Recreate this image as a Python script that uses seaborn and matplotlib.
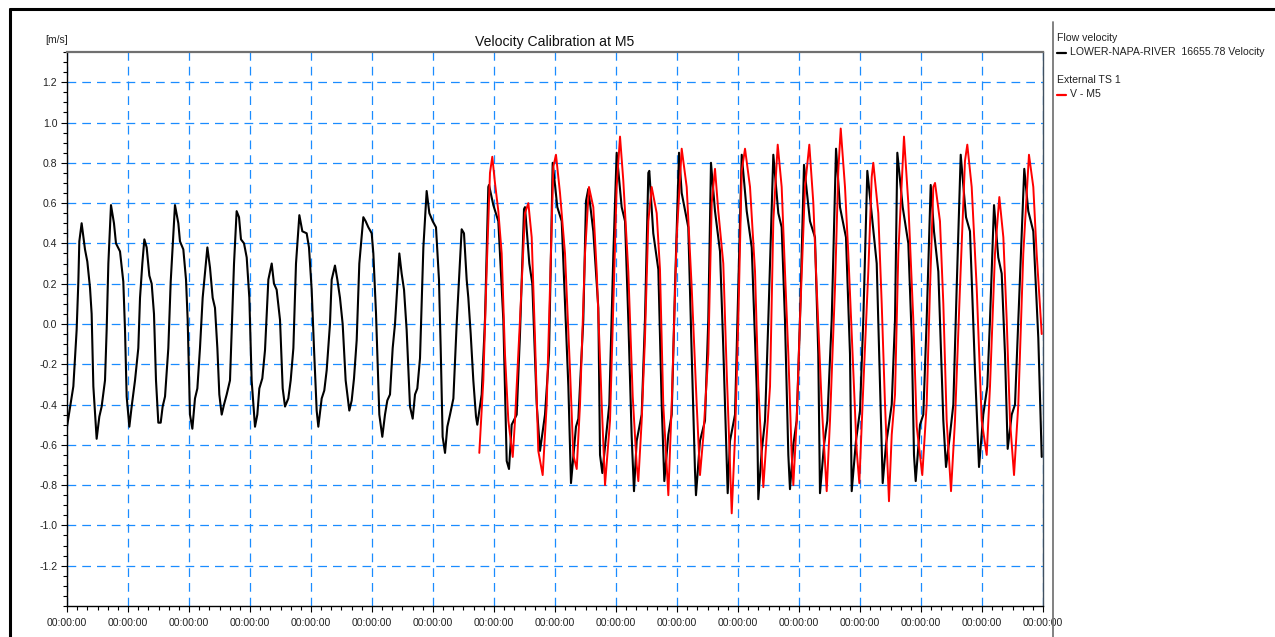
import numpy as np
import pandas as pd
import matplotlib
matplotlib.use("Agg")
import matplotlib.pyplot as plt
from matplotlib.lines import Line2D
from matplotlib.ticker import MultipleLocator, FixedLocator, FixedFormatter
import seaborn as sns

# ---------------- data (time in days from start, velocity in m/s) ----------------
black_t = [0.000, 0.077, 0.104, 0.158, 0.186, 0.202, 0.240, 0.295, 0.333, 0.377, 0.404, 0.432, 0.486,
           0.530, 0.568, 0.623, 0.650, 0.678, 0.721, 0.770, 0.803, 0.869, 0.923, 0.951, 0.978, 1.022,
           1.060, 1.115, 1.169, 1.197, 1.235, 1.268, 1.306, 1.350, 1.388, 1.426, 1.459, 1.497, 1.536,
           1.568, 1.607, 1.661, 1.700, 1.770, 1.825, 1.852, 1.907, 1.951, 1.978, 2.016, 2.055, 2.098,
           2.137, 2.180, 2.224, 2.301, 2.344, 2.388, 2.426, 2.465, 2.497, 2.536, 2.574, 2.618, 2.672,
           2.710, 2.738, 2.781, 2.820, 2.852, 2.902, 2.946, 2.989, 3.027, 3.082, 3.120, 3.153, 3.202,
           3.246, 3.301, 3.356, 3.393, 3.437, 3.492, 3.536, 3.574, 3.628, 3.667, 3.711, 3.754, 3.809,
           3.858, 3.929, 3.967, 4.011, 4.049, 4.093, 4.120, 4.175, 4.218, 4.257, 4.311, 4.339, 4.393,
           4.432, 4.475, 4.519, 4.568, 4.628, 4.667, 4.705, 4.749, 4.792, 4.858, 4.896, 4.940, 4.995,
           5.022, 5.066, 5.120, 5.169, 5.213, 5.251, 5.295, 5.339, 5.377, 5.448, 5.486, 5.525, 5.568,
           5.623, 5.667, 5.705, 5.743, 5.787, 5.842, 5.896, 5.940, 5.995, 6.049, 6.098, 6.126, 6.158,
           6.197, 6.235, 6.279, 6.334, 6.388, 6.470, 6.508, 6.552, 6.579, 6.618, 6.661, 6.705, 6.726,
           6.798, 6.852, 6.907, 6.918, 6.989, 7.071, 7.153, 7.208, 7.246, 7.290, 7.372, 7.426, 7.492,
           7.508, 7.579, 7.628, 7.700, 7.754, 7.836, 7.902, 7.962, 8.038, 8.110, 8.219, 8.262, 8.344,
           8.383, 8.464, 8.508, 8.546, 8.628, 8.710, 8.738, 8.776, 8.820, 8.890, 8.956,
           9.011, 9.093, 9.148, 9.202, 9.257, 9.295, 9.339, 9.421, 9.475, 9.530, 9.546, 9.611, 9.694,
           9.749, 9.792, 9.858, 9.913, 9.967, 10.033, 10.077, 10.185, 10.241, 10.295, 10.311, 10.377,
           10.459, 10.513, 10.557, 10.623, 10.705, 10.759, 10.814, 10.831, 10.869, 10.951, 11.005,
           11.061, 11.143, 11.225, 11.307,
           11.333, 11.389, 11.443, 11.497, 11.579, 11.661, 11.716, 11.770, 11.825, 11.852, 11.907,
           11.962, 12.016, 12.082, 12.180, 12.262, 12.316, 12.344, 12.410, 12.464, 12.536, 12.607,
           12.672, 12.770, 12.836, 12.864, 12.934, 13.000, 13.054, 13.120, 13.208, 13.274, 13.328,
           13.372, 13.426, 13.520, 13.574,
           13.612, 13.700, 13.792, 13.848, 13.885, 13.913, 13.984, 14.038, 14.093, 14.159, 14.213,
           14.284, 14.366, 14.410, 14.475, 14.530, 14.585, 14.651, 14.738, 14.803, 14.885, 14.951,
           15.021, 15.087, 15.131, 15.197, 15.267, 15.323, 15.377, 15.421, 15.487, 15.541, 15.595,
           15.693, 15.759, 15.841, 15.923, 15.979]
black_v = [-0.51, -0.36, -0.31, -0.03, 0.21, 0.41, 0.50, 0.37, 0.31, 0.18, 0.05, -0.31, -0.57,
           -0.46, -0.41, -0.28, -0.03, 0.30, 0.59, 0.50, 0.40, 0.36, 0.21, -0.03, -0.36, -0.51,
           -0.41, -0.28, -0.12, 0.13, 0.30, 0.42, 0.38, 0.24, 0.20, 0.05, -0.28, -0.49, -0.49,
           -0.41, -0.36, -0.12, 0.21, 0.59, 0.50, 0.41, 0.37, 0.22, 0.02, -0.45, -0.52, -0.37,
           -0.32, -0.12, 0.13, 0.38, 0.28, 0.13, 0.08, -0.12, -0.35, -0.45, -0.40, -0.35, -0.28,
           0.05, 0.30, 0.56, 0.53, 0.42, 0.40, 0.33, 0.13, -0.28, -0.51, -0.45, -0.32, -0.27,
           -0.13, 0.22, 0.30, 0.20, 0.17, 0.02, -0.32, -0.41, -0.37, -0.28, -0.12, 0.30, 0.54,
           0.46, 0.45, 0.38, 0.17, -0.12, -0.43, -0.51, -0.37, -0.33, -0.23, 0.00, 0.22, 0.29,
           0.22, 0.13, 0.00, -0.28, -0.43, -0.38, -0.27, -0.08, 0.30, 0.53, 0.51, 0.48, 0.45,
           0.35, 0.05, -0.45, -0.56, -0.45, -0.38, -0.35, -0.12, 0.00, 0.35, 0.25, 0.17, -0.03,
           -0.41, -0.47, -0.35, -0.32, -0.17, 0.38, 0.66, 0.55, 0.51, 0.48, 0.22, -0.12, -0.56,
           -0.64, -0.51, -0.45, -0.37, 0.00, 0.47, 0.45, 0.22, 0.13, -0.05, -0.28, -0.46, -0.50,
           -0.35, 0.02, 0.68, 0.69, 0.59, 0.51, 0.02, -0.68, -0.72, -0.50, -0.45, -0.05, 0.57,
           0.58, 0.30, 0.20, -0.40, -0.63, -0.45, -0.15, 0.80, 0.58, 0.51, -0.31, -0.79, -0.51,
           -0.47, 0.02, 0.61, 0.67, 0.46, 0.08, -0.65, -0.74, -0.61, -0.40, 0.34,
           0.85, 0.58, 0.51, 0.02, -0.56, -0.83, -0.58, -0.45, 0.02, 0.75, 0.76, 0.45, 0.27,
           -0.40, -0.78, -0.55, -0.45, 0.18, 0.85, 0.65, 0.48, -0.15, -0.73, -0.85, -0.58,
           -0.48, 0.02, 0.80, 0.56, 0.36, -0.12, -0.68, -0.84, -0.58, -0.45, 0.18,
           0.84, 0.56, 0.38, -0.32,
           -0.87, -0.63, -0.48, 0.02, 0.84, 0.55, 0.48, 0.02, -0.65, -0.82, -0.60,
           -0.48, 0.02, 0.79, 0.51, 0.43, -0.15, -0.84, -0.60, -0.48, 0.02, 0.87,
           0.58, 0.43, -0.15, -0.83, -0.58, -0.43, 0.02, 0.76, 0.50, 0.30, -0.31,
           -0.79, -0.60, -0.40, 0.02,
           0.85, 0.58, 0.40, -0.07, -0.65, -0.78, -0.50, -0.45, 0.02, 0.69, 0.46,
           0.26, -0.48, -0.71, -0.55, -0.40, 0.18, 0.84, 0.53, 0.46, -0.23, -0.71,
           -0.45, -0.31, 0.02, 0.59, 0.33, 0.25, -0.15, -0.62, -0.45, -0.40, 0.02,
           0.77, 0.56, 0.46, -0.07, -0.66]

red_t = [6.759, 6.825, 6.880, 6.934, 6.972, 7.016, 7.071, 7.126, 7.180, 7.235, 7.307, 7.344, 7.426,
         7.508, 7.563, 7.618, 7.672, 7.726, 7.798, 7.864, 7.918, 7.972, 8.016, 8.082, 8.164, 8.246,
         8.300, 8.356, 8.410, 8.492, 8.557, 8.628, 8.684, 8.766, 8.820, 8.902, 9.011,
         9.066, 9.120, 9.202, 9.274, 9.339, 9.366, 9.421, 9.475, 9.530, 9.585, 9.667, 9.721, 9.775,
         9.858, 9.913, 9.995, 10.077, 10.159, 10.241, 10.323, 10.377, 10.431, 10.513, 10.569,
         10.623, 10.677, 10.759, 10.814, 10.897, 10.951, 11.005, 11.061, 11.115, 11.197, 11.279,
         11.333, 11.415, 11.525, 11.579, 11.651, 11.716, 11.770, 11.825, 11.880, 11.907, 11.962,
         12.016, 12.098, 12.169, 12.235, 12.290, 12.372, 12.454, 12.508, 12.590, 12.644, 12.684,
         12.754, 12.808, 12.890, 12.946, 12.989, 13.054, 13.136, 13.192, 13.218, 13.300, 13.356,
         13.410, 13.475, 13.520, 13.574, 13.628, 13.721, 13.792, 13.874, 13.930, 14.021, 14.093,
         14.148, 14.202, 14.230, 14.311, 14.366, 14.421, 14.492, 14.557, 14.639, 14.721, 14.759,
         14.831, 14.913, 14.995, 15.077, 15.131, 15.213, 15.284, 15.350, 15.405, 15.459, 15.525,
         15.595, 15.677, 15.770, 15.841, 15.896, 15.979]
red_v = [-0.64, -0.28, 0.27, 0.75, 0.83, 0.70, 0.56, 0.35, -0.15, -0.48, -0.66, -0.48, 0.02,
         0.55, 0.60, 0.43, -0.07, -0.63, -0.75, -0.40, 0.18, 0.78, 0.84, 0.65, 0.35, -0.23,
         -0.65, -0.72, -0.40, 0.35, 0.68, 0.58, 0.26, -0.40, -0.80, -0.48, 0.68,
         0.93, 0.71, 0.26, -0.36, -0.70, -0.78, -0.48, -0.07, 0.51, 0.68, 0.55, 0.27, -0.40,
         -0.85, -0.40, 0.43, 0.87, 0.68, 0.18, -0.40, -0.75, -0.56, -0.15, 0.60,
         0.77, 0.56, 0.30, -0.23, -0.94, -0.56, 0.02, 0.76, 0.87, 0.68, 0.26,
         -0.31, -0.81, -0.31, 0.51, 0.89, 0.68, 0.26, -0.15, -0.65, -0.80, -0.48,
         0.02, 0.68, 0.89, 0.60, 0.18, -0.40, -0.83, -0.48, 0.18, 0.76, 0.97,
         0.68, 0.35, -0.23, -0.63, -0.79, -0.31, 0.26, 0.73, 0.80, 0.55, 0.10,
         -0.40, -0.88, -0.55, -0.35, 0.35, 0.93, 0.60, 0.02, -0.51, -0.75, -0.40,
         0.18, 0.68, 0.70, 0.51, 0.10, -0.48, -0.83, -0.48, 0.18, 0.81, 0.89,
         0.68, 0.18, -0.48, -0.65, -0.31, 0.35, 0.63, 0.43, 0.02, -0.48, -0.75,
         -0.40, 0.35, 0.84, 0.68, 0.35, -0.05]

x_tick_days = list(range(0, 17))
x_tick_labels = ["00:00:00"] * len(x_tick_days)
y_tick_values = [-1.2, -1.0, -0.8, -0.6, -0.4, -0.2, 0.0, 0.2, 0.4, 0.6, 0.8, 1.0, 1.2]
y_tick_labels = ["-1.2", "-1.0", "-0.8", "-0.6", "-0.4", "-0.2", "0.0", "0.2", "0.4", "0.6", "0.8", "1.0", "1.2"]

title = "Velocity Calibration at M5"
unit_label = "[m/s]"
legend_group1 = "Flow velocity"
legend_item1 = "LOWER-NAPA-RIVER  16655.78 Velocity"
legend_group2 = "External TS 1"
legend_item2 = "V - M5"

# ---------------- figure ----------------
sns.set_theme(style="white")
plt.rcParams["font.family"] = ["Liberation Sans", "DejaVu Sans"]
plt.rcParams["axes.unicode_minus"] = False

W, H = 1275, 637
fig = plt.figure(figsize=(W / 100, H / 100), dpi=100)
fig.patch.set_facecolor("white")

ax_l, ax_r, ax_t, ax_b = 67, 1043, 52, 606
ax = fig.add_axes([ax_l / W, 1 - ax_b / H, (ax_r - ax_l) / W, (ax_b - ax_t) / H])

df_b = pd.DataFrame({"t": black_t, "v": black_v})
df_r = pd.DataFrame({"t": red_t, "v": red_v})
sns.lineplot(data=df_b, x="t", y="v", ax=ax, color="black", lw=1.5,
             estimator=None, sort=False, zorder=3)
sns.lineplot(data=df_r, x="t", y="v", ax=ax, color="#ff0000", lw=1.4,
             estimator=None, sort=False, zorder=4)

ax.set_xlim(0, 16)
ax.set_ylim(-1.40, 1.35)
ax.set_xlabel("")
ax.set_ylabel("")

ax.xaxis.set_major_locator(FixedLocator(x_tick_days))
ax.xaxis.set_major_formatter(FixedFormatter(x_tick_labels))
ax.xaxis.set_minor_locator(MultipleLocator(1 / 6))
ax.yaxis.set_major_locator(FixedLocator(y_tick_values))
ax.yaxis.set_major_formatter(FixedFormatter(y_tick_labels))
ax.yaxis.set_minor_locator(MultipleLocator(0.05))

ax.tick_params(axis="both", which="major", direction="out", length=4, width=0.8,
               color="black", labelsize=7.6, labelcolor="#222222")
ax.tick_params(axis="both", which="minor", direction="out", length=2.6, width=0.8, color="black")
ax.tick_params(axis="x", which="major", pad=5)
ax.tick_params(axis="y", which="major", pad=3)
ax.tick_params(left=True, bottom=True, which="both")

ax.grid(True, which="major", color="#1a8cff", lw=0.9, linestyle=(0, (7, 4.8)), alpha=1.0)
ax.set_axisbelow(True)

for side in ["left", "bottom"]:
    ax.spines[side].set_color("black")
    ax.spines[side].set_linewidth(1.0)
ax.spines["top"].set_color("#707070")
ax.spines["top"].set_linewidth(1.6)
ax.spines["right"].set_color("#405060")
ax.spines["right"].set_linewidth(1.0)

fig.text(((ax_l + ax_r) / 2) / W, 1 - 42 / H, title, ha="center", va="center",
         fontsize=10.1, color="#111111")
fig.text(45 / W, 1 - 40 / H, unit_label, ha="left", va="center", fontsize=7.4, color="#222222")

# outer frame and legend separator
fig.add_artist(Line2D([10 / W, 10 / W], [0, 1 - 9 / H], color="black", lw=2.2, transform=fig.transFigure))
fig.add_artist(Line2D([10 / W, 1], [1 - 9 / H, 1 - 9 / H], color="black", lw=2.2, transform=fig.transFigure))
fig.add_artist(Line2D([1052.5 / W, 1052.5 / W], [0, 1 - 22 / H], color="#777777", lw=1.3,
                      transform=fig.transFigure))

# legend
lx = 1057
fig.text(lx / W, 1 - 38 / H, legend_group1, ha="left", va="center", fontsize=7.6, color="#222222")
fig.add_artist(Line2D([lx / W, (lx + 9) / W], [1 - 52.5 / H] * 2, color="black", lw=1.6,
                      transform=fig.transFigure))
fig.text((lx + 13) / W, 1 - 52 / H, legend_item1, ha="left", va="center", fontsize=7.6, color="#222222")
fig.text(lx / W, 1 - 80 / H, legend_group2, ha="left", va="center", fontsize=7.6, color="#222222")
fig.add_artist(Line2D([lx / W, (lx + 9) / W], [1 - 94.5 / H] * 2, color="#ff0000", lw=1.6,
                      transform=fig.transFigure))
fig.text((lx + 13) / W, 1 - 94 / H, legend_item2, ha="left", va="center", fontsize=7.6, color="#222222")

fig.savefig("out.png", dpi=100, facecolor="white")
